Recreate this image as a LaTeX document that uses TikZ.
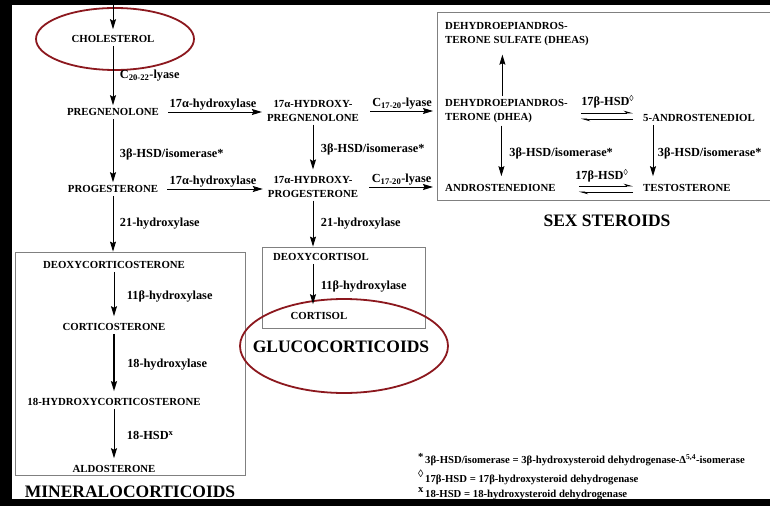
\documentclass[tikz,border=0pt]{standalone}
\usepackage{fontspec}
\setmainfont{Liberation Serif}
\usetikzlibrary{arrows.meta,positioning}
\definecolor{ringred}{RGB}{140,24,30}

\begin{document}
\begin{tikzpicture}[x=1bp,y=-1bp,>={Stealth[length=10bp,width=6bp,inset=1.5bp]},
  chem/.style={font=\fontsize{10.8bp}{13.5bp}\selectfont\bfseries,align=center,inner sep=3bp},
  enz/.style={font=\fontsize{12.3bp}{14bp}\selectfont\bfseries,inner sep=1.5bp},
  grp/.style={font=\fontsize{17.5bp}{20bp}\selectfont\bfseries,inner sep=0pt},
  note/.style={font=\fontsize{10.7bp}{12bp}\selectfont\bfseries,anchor=west,inner sep=0pt},
  frame/.style={draw=black!50,line width=0.8bp},
  ring/.style={draw=ringred,line width=1.8bp},
  flow/.style={->,line width=0.9bp},
  harp/.style={-{Stealth[harpoon,length=8bp,width=4.5bp]},line width=0.7bp}]
  \useasboundingbox (0,0) rectangle (770,506);
  \fill[black] (0,0) rectangle (770,506);
  \fill[white] (12,5) rectangle (770,499);

  % group frames
  \node[frame,minimum width=230bp,minimum height=223bp] (minbox) at (130,363.5) {};
  \node[frame,minimum width=163bp,minimum height=81bp] (glubox) at (343.5,287.5) {};
  \node[frame,minimum width=343bp,minimum height=188bp] (sexbox) at (608.5,106) {};

  % main pathway
  \coordinate (src) at (113,5);
  \node[chem] (chol) at (113,39) {CHOLESTEROL};
  \node[chem] (preg) at (113,112) {PREGNENOLONE};
  \node[chem] (prog) at (113,189) {PROGESTERONE};
  \node[chem] (ohpreg) at (313,111) {17α-HYDROXY-\\PREGNENOLONE};
  \node[chem] (ohprog) at (313,187) {17α-HYDROXY-\\PROGESTERONE};

  % sex steroids
  \node[chem,anchor=west,align=left] (dheas) at (442,34) {DEHYDROEPIANDROS-\\TERONE SULFATE (DHEAS)};
  \node[chem,anchor=west,align=left] (dhea) at (442,111) {DEHYDROEPIANDROS-\\TERONE (DHEA)};
  \node[chem,anchor=west] (adiol) at (640,118) {5-ANDROSTENEDIOL};
  \node[chem,anchor=west] (andro) at (442,188) {ANDROSTENEDIONE};
  \node[chem,anchor=west] (testo) at (640,188) {TESTOSTERONE};

  % mineralocorticoids
  \node[chem] (dcs) at (114,265) {DEOXYCORTICOSTERONE};
  \node[chem] (cs) at (114,327) {CORTICOSTERONE};
  \node[chem] (ohcs) at (114,402) {18-HYDROXYCORTICOSTERONE};
  \node[chem] (aldo) at (114,469) {ALDOSTERONE};

  % glucocorticoids
  \node[chem] (dcort) at (321,257) {DEOXYCORTISOL};
  \node[chem] (cort) at (319,316) {CORTISOL};

  % titles
  \node[grp] (sexT) at (607,221) {SEX STEROIDS};
  \node[grp] (minT) at (130,492) {MINERALOCORTICOIDS};
  \node[grp] (gluT) at (341,347) {GLUCOCORTICOIDS};

  % red rings
  \draw[ring] (115,39) ellipse [x radius=79, y radius=31];
  \draw[ring] (344,346) ellipse [x radius=104, y radius=47];

  % vertical steps
  \draw[flow,shorten >=3bp] (src) -- (chol);
  \draw[flow] (chol) -- (preg) node[enz,midway,right=5bp] {C\textsubscript{20-22}-lyase};
  \draw[flow] (preg) -- (prog) node[enz,midway,right=5bp,yshift=-4bp] {3β-HSD/isomerase*};
  \draw[flow] (prog) -- (prog |- minbox.north) node[enz,midway,right=5bp] {21-hydroxylase};
  \draw[flow,shorten >=4bp] (dcs) -- (cs) node[enz,midway,right=11bp] {11β-hydroxylase};
  \draw[flow,line width=1.5bp,shorten >=4bp] (cs) -- (ohcs) node[enz,midway,right=11bp] {18-hydroxylase};
  \draw[flow,shorten >=4bp] (ohcs) -- (aldo) node[enz,midway,right=11bp] {18-HSD\textsuperscript{x}};
  \draw[flow,shorten >=4bp] (ohpreg) -- (ohprog) node[enz,midway,right=6bp] {3β-HSD/isomerase*};
  \draw[flow] (ohprog) -- (ohprog |- glubox.north) node[enz,midway,right=6bp] {21-hydroxylase};
  \draw[flow,shorten >=5bp] (dcort.south -| ohprog) -- (cort.north -| ohprog) node[enz,midway,right=6bp] {11β-hydroxylase};
  \draw[flow,shorten >=6bp] ([xshift=-4bp]dhea.north) -- ([xshift=-4bp]dhea.north |- dheas.south);
  \draw[flow,shorten >=5bp] ([xshift=-5bp]dhea.south) -- ([xshift=-5bp]dhea.south |- andro.north) node[enz,midway,right=6bp] {3β-HSD/isomerase*};
  \draw[flow,shorten >=5bp] ([xshift=13bp]adiol.south west) -- ([xshift=13bp]adiol.south west |- testo.north) node[enz,midway,right=3bp] {3β-HSD/isomerase*};

  % horizontal steps
  \draw[flow,shorten <=6bp,shorten >=2bp] (preg) -- (preg -| ohpreg.west) node[enz,midway,above] {17α-hydroxylase};
  \draw[flow,shorten <=6bp,shorten >=2bp] (prog) -- (prog -| ohprog.west) node[enz,midway,above] {17α-hydroxylase};
  \draw[flow,shorten <=8bp,shorten >=9bp] (ohpreg) -- (ohpreg -| dhea.west) node[enz,midway,above] {C\textsubscript{17-20}-lyase};
  \draw[flow,shorten <=8bp,shorten >=9bp] (ohprog) -- (ohprog -| andro.west) node[enz,midway,above] {C\textsubscript{17-20}-lyase};

  % reversible 17beta-HSD steps
  \draw[harp,shorten <=10bp,shorten >=7bp] ([yshift=5bp]adiol.west -| dhea.east) -- ([yshift=5bp]adiol.west) node[enz,midway,above=3bp] {17β-HSD\rlap{\textsuperscript{◊}}};
  \draw[harp,shorten <=7bp,shorten >=10bp] ([yshift=-1bp]adiol.west) -- ([yshift=-1bp]adiol.west -| dhea.east);
  \draw[harp,shorten <=20bp,shorten >=7bp] ([yshift=2bp]testo.west -| andro.east) -- ([yshift=2bp]testo.west) node[enz,midway,above=2bp] {17β-HSD\rlap{\textsuperscript{◊}}};
  \draw[harp,shorten <=7bp,shorten >=20bp] ([yshift=-4bp]testo.west) -- ([yshift=-4bp]testo.west -| andro.east);

  % footnotes
  \node[note] (fn1) at (425,460) {\llap{\raisebox{3bp}{*}\,}3β-HSD/isomerase = 3β-hydroxysteroid dehydrogenase-Δ\textsuperscript{5,4}-isomerase};
  \node[note] (fn2) at (425,477) {\llap{\raisebox{5bp}{◊}\,}17β-HSD = 17β-hydroxysteroid dehydrogenase};
  \node[note] (fn3) at (425,494) {\llap{\raisebox{5bp}{x}\,}18-HSD = 18-hydroxysteroid dehydrogenase};
\end{tikzpicture}
\end{document}
